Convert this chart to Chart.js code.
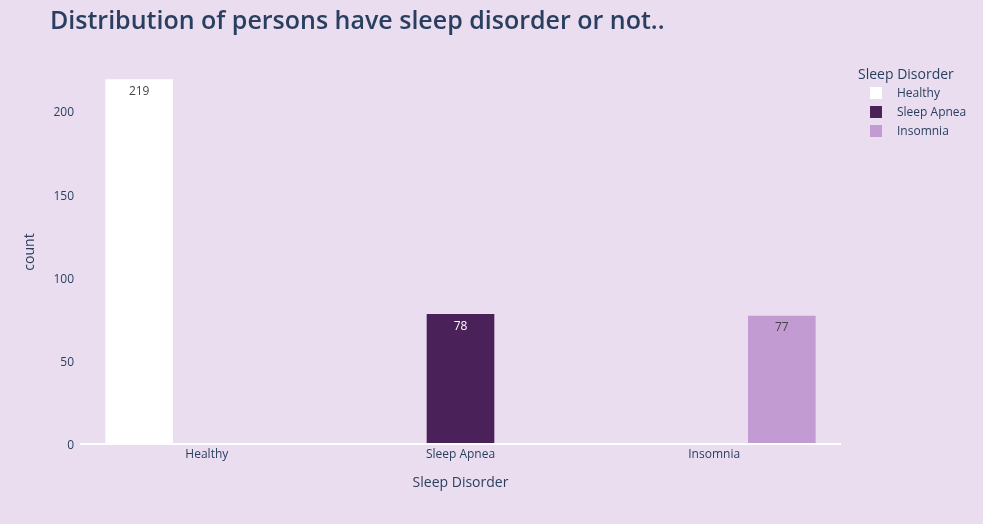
<!DOCTYPE html>
<html>
<head>
<meta charset="utf-8">
<script src="https://cdn.jsdelivr.net/npm/chart.js@4"></script>
<style>
  html, body { margin: 0; padding: 0; background: #E9DDEF; }
  #wrap { width: 983px; height: 524px; position: relative; }
</style>
</head>
<body>
<div id="wrap"><canvas id="chart"></canvas></div>
<script>
// ===============================
// Data
// ===============================
const categories = ["Healthy", "Sleep Apnea", "Insomnia"];
const seriesNames = ["Healthy", "Sleep Apnea", "Insomnia"];
const counts = [219, 78, 77];
const yTicks = [0, 50, 100, 150, 200];

const barColors = ["#FFFFFF", "#4A2259", "#C39BD3"];
const labelColors = ["#444444", "#FFFFFF", "#444444"];
const FONT = "'Open Sans', sans-serif";
const INK = "#2A3F5F";

// one trace per category, placed only at its own category (plotly "group" style)
const datasets = seriesNames.map((name, i) => ({
  label: name,
  data: categories.map((c, j) => (j === i ? counts[i] : null)),
  backgroundColor: barColors[i],
  borderWidth: 0,
  categoryPercentage: 0.8,
  barPercentage: 1.0
}));

// ===============================
// Plugins: title, legend, value labels
// ===============================
const extras = {
  id: "extras",
  beforeDraw(chart) {
    const ctx = chart.ctx;
    ctx.save();
    ctx.fillStyle = "#E9DDEF";
    ctx.fillRect(0, 0, chart.width, chart.height);
    ctx.restore();
  },
  afterDraw(chart) {
    const ctx = chart.ctx;
    ctx.save();

    // title
    ctx.fillStyle = INK;
    ctx.font = "600 25px " + FONT;
    ctx.textAlign = "left";
    ctx.textBaseline = "middle";
    ctx.fillText("Distribution of persons have sleep disorder or not..", 50, 22);

    // legend
    ctx.font = "14px " + FONT;
    ctx.fillText("Sleep Disorder", 858, 75);
    ctx.font = "12px " + FONT;
    chart.data.datasets.forEach((ds, i) => {
      const y = 93 + i * 19;
      ctx.fillStyle = ds.backgroundColor;
      ctx.fillRect(870, y - 6, 12, 12);
      ctx.fillStyle = INK;
      ctx.fillText(ds.label, 897, y + 1);
    });

    // value labels inside the bar tops
    ctx.textAlign = "center";
    chart.data.datasets.forEach((ds, i) => {
      const meta = chart.getDatasetMeta(i);
      meta.data.forEach((bar, j) => {
        const v = ds.data[j];
        if (v == null) return;
        ctx.fillStyle = labelColors[i];
        ctx.fillText(String(v), bar.x, bar.y + 12);
      });
    });
    ctx.restore();
  }
};

// ===============================
// Chart
// ===============================
const ctxChart = document.getElementById("chart");

new Chart(ctxChart, {
  type: "bar",
  data: {
    labels: categories,
    datasets: datasets
  },
  options: {
    responsive: true,
    maintainAspectRatio: false,
    animation: false,
    layout: {
      padding: { top: 60, right: 142, left: 0, bottom: 0 }
    },
    plugins: {
      legend: { display: false },
      title: { display: false },
      tooltip: { enabled: false }
    },
    scales: {
      x: {
        afterFit: s => { s.height = 80; },
        grid: { display: false, drawTicks: false },
        border: { display: false },
        ticks: { color: INK, font: { family: FONT, size: 12 }, padding: 3 },
        title: {
          display: true,
          text: "Sleep Disorder",
          color: INK,
          font: { family: FONT, size: 14 },
          padding: { top: 0, bottom: 33 }
        }
      },
      y: {
        min: 0,
        max: 230.6,
        afterFit: s => { s.width = 80; },
        afterBuildTicks: s => { s.ticks = yTicks.map(v => ({ value: v })); },
        grid: {
          drawTicks: false,
          color: c => (c.tick && c.tick.value === 0 ? "#FFFFFF" : "rgba(0,0,0,0)"),
          lineWidth: c => (c.tick && c.tick.value === 0 ? 2 : 0)
        },
        border: { display: false },
        ticks: { color: INK, font: { family: FONT, size: 12 }, padding: 6, labelOffset: 2 },
        title: {
          display: true,
          text: "count",
          color: INK,
          font: { family: FONT, size: 14 },
          padding: { top: 22, bottom: 0 }
        }
      }
    }
  },
  plugins: [extras]
});
</script>
</body>
</html>
